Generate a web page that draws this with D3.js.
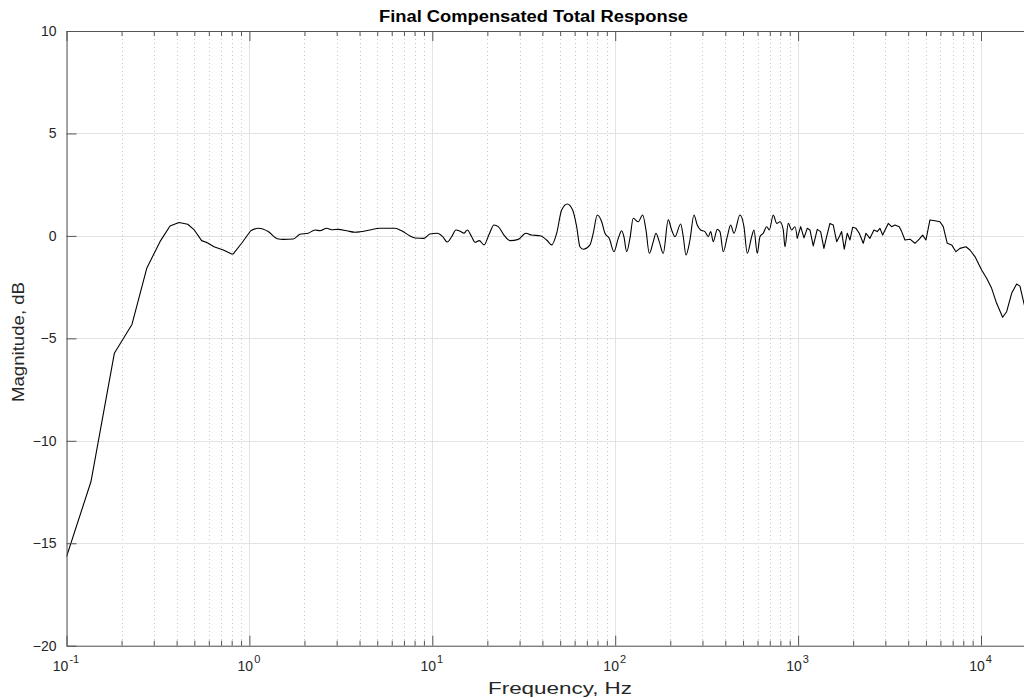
<!DOCTYPE html>
<html><head><meta charset="utf-8">
<script src="https://cdn.jsdelivr.net/npm/d3@7"></script>
<style>html,body{margin:0;padding:0;overflow:hidden;background:#fff}</style>
</head><body><svg id="c" width="1024" height="698"></svg>
<script>
const freqHz = [0.1,0.136,0.1826,0.228,0.2746,0.3245,0.368,0.412,0.46,0.4995,0.548,0.589,0.640,0.720,0.800,0.816,0.907,1.016,1.118,1.268,1.420,1.532,1.738,1.891,2.099,2.283,2.432,2.646,2.818,3.062,3.404,3.777,4.024,4.563,5.175,6.251,6.801,7.55,8.04,9.00,9.71,10.65,11.40,12.07,12.76,13.47,14.29,14.90,15.53,16.41,17.12,18.07,19.17,20.48,21.74,22.95,24.65,26.59,29.51,32.52,34.93,38.78,42.19,44.94,47.86,50.96,54.70,58.53,61.55,64.16,66.89,72.78,75.86,79.78,84.34,87.90,92.78,98.45,103.9,108.5,111.6,115.5,120.4,125.5,133.7,141.3,147.3,153.6,161.5,167.1,174.1,183.1,195.0,203.5,212.2,228.0,235.6,243.7,256.3,269.5,280.9,293.3,309.6,322.7,332.6,343.7,361.4,373.9,389.8,410.0,427.9,446.0,481.0,505.8,527.2,557.3,573.7,598.0,618.6,645.0,673.2,695.6,731.6,763.6,796.0,829.7,847.6,883.6,922.2,961.1,989.4,1033,1077,1122,1161,1210,1273,1328,1384,1432,1493,1557,1625,1679,1730,1788,1857,1921,1987,2072,2160,2271,2350,2471,2598,2709,2802,2899,3111,3247,3384,3573,3683,3839,4089,4355,4596,4797,5000,5259,5601,5965,6217,6539,6912,7295,7672,8274,8700,9266,10080,10735,11435,12175,13130,13810,14710,15660,16330,17170,18000];
const magDb = [-15.66,-12.0,-5.73,-4.32,-1.58,-0.28,0.48,0.65,0.57,0.29,-0.23,-0.33,-0.53,-0.69,-0.88,-0.88,-0.36,0.25,0.37,0.21,-0.14,-0.17,-0.15,0.08,0.13,0.29,0.25,0.37,0.30,0.32,0.25,0.18,0.2,0.29,0.37,0.37,0.25,0.0,-0.10,-0.12,0.09,0.13,-0.04,-0.30,-0.04,0.29,0.21,0.13,0.29,-0.04,-0.31,-0.23,-0.44,0.09,0.53,0.45,0.04,-0.23,-0.17,0.13,0.04,0.01,-0.20,-0.44,0.13,1.26,1.56,1.26,0.45,-0.53,-0.65,-0.44,0.13,1.02,0.69,0.13,-0.12,-0.77,-0.12,0.25,-0.04,-0.77,-0.12,0.86,0.69,1.02,0.29,-0.85,-0.28,0.13,-0.28,-0.85,0.78,0.29,-0.04,0.58,-0.04,-0.93,-0.20,1.02,0.53,0.29,0.21,-0.04,0.21,-0.28,0.32,0.21,-0.77,-0.04,0.53,0.13,1.02,0.45,-0.85,-0.04,0.29,-0.85,-0.04,0.13,0.45,0.29,1.02,0.61,0.69,0.29,-0.53,0.61,0.29,0.45,-0.12,0.45,-0.1,0.37,0.29,-0.49,0.32,0.21,-0.61,-0.04,0.61,0.53,-0.28,-0.04,0.21,-0.65,0.13,-0.20,0.42,0.37,0.13,-0.36,0.13,-0.12,0.29,0.21,0.37,0.04,0.61,0.45,0.53,0.45,0.21,-0.20,-0.16,-0.36,-0.16,0.04,-0.20,0.78,0.74,0.69,0.45,-0.36,-0.44,-0.77,-0.61,-0.53,-0.69,-1.01,-1.66,-2.07,-2.56,-3.29,-3.97,-3.70,-2.80,-2.35,-2.45,-3.29,-4.0];
const yTicks = [-20,-15,-10,-5,0,5,10];
const xDecades = [0.1,1,10,100,1000,10000];
const xDecadeExp = ["-1","0","1","2","3","4"];
const titleText = "Final Compensated Total Response";
const xLabelText = "Frequency, Hz";
const yLabelText = "Magnitude, dB";

const svg = d3.select("#c");
const font = "'Liberation Sans', Arial, Helvetica, sans-serif";
const L = 66.5, T = 31, B = 645.7, decade = 182.9;
const R = L + decade * Math.log10(20000 / 0.1);
const x = d3.scaleLog().domain([0.1, 20000]).range([L, R]);
const y = d3.scaleLinear().domain([-20, 10]).range([B, T]);

const minors = [];
xDecades.forEach(d => { for (let k = 2; k <= 9; k++) { const v = d * k; if (v <= 20000) minors.push(v); } });

svg.append("defs").append("clipPath").attr("id", "clip")
  .append("rect").attr("x", L).attr("y", T).attr("width", R - L).attr("height", B - T);

// minor grid (dotted)
svg.append("g").selectAll("line").data(minors).join("line")
  .attr("x1", d => Math.round(x(d)) + 0.5).attr("x2", d => Math.round(x(d)) + 0.5)
  .attr("y1", T).attr("y2", B)
  .attr("stroke", "#c8c8c8").attr("stroke-width", 1).attr("stroke-dasharray", "1,3");
// major grid
svg.append("g").selectAll("line").data(xDecades).join("line")
  .attr("x1", d => Math.round(x(d)) + 0.5).attr("x2", d => Math.round(x(d)) + 0.5)
  .attr("y1", T).attr("y2", B).attr("stroke", "#e3e3e3").attr("stroke-width", 1);
svg.append("g").selectAll("line").data(yTicks).join("line")
  .attr("x1", L).attr("x2", R)
  .attr("y1", d => Math.round(y(d)) + 0.5).attr("y2", d => Math.round(y(d)) + 0.5)
  .attr("stroke", "#e3e3e3").attr("stroke-width", 1);

// curve: linear below ~1 Hz and above ~1 kHz, smooth in between
const pts = freqHz.map((f, i) => [f, magDb[i]]);
const segs = [
  { data: pts.filter(p => p[0] <= 1.016), curve: d3.curveLinear },
  { data: pts.filter(p => p[0] >= 1.016 && p[0] <= 989.4), curve: d3.curveMonotoneX },
  { data: pts.filter(p => p[0] >= 989.4), curve: d3.curveLinear }
];
const gCurve = svg.append("g").attr("clip-path", "url(#clip)");
segs.forEach(s => {
  const ln = d3.line().x(p => x(p[0])).y(p => y(p[1])).curve(s.curve);
  gCurve.append("path").attr("d", ln(s.data)).attr("fill", "none")
    .attr("stroke", "#000").attr("stroke-width", 1.1).attr("stroke-linejoin", "round");
});

// axes
const axCol = "#555";
function styleAxis(g) {
  g.select(".domain").attr("stroke", axCol);
  g.selectAll(".tick line").attr("stroke", axCol);
}
const axBottom = svg.append("g").attr("transform", `translate(0,${B})`)
  .call(d3.axisBottom(x).tickValues(xDecades).tickSizeInner(-10).tickSizeOuter(0).tickFormat(""));
styleAxis(axBottom);
svg.append("g").attr("transform", `translate(0,${B})`)
  .call(d3.axisBottom(x).tickValues(minors).tickSizeInner(-5).tickSizeOuter(0).tickFormat(""))
  .call(g => { g.select(".domain").remove(); g.selectAll(".tick line").attr("stroke", axCol); });
const axTop = svg.append("g").attr("transform", `translate(0,${T})`)
  .call(d3.axisTop(x).tickValues(xDecades).tickSizeInner(-10).tickSizeOuter(0).tickFormat(""));
styleAxis(axTop);
svg.append("g").attr("transform", `translate(0,${T})`)
  .call(d3.axisTop(x).tickValues(minors).tickSizeInner(-5).tickSizeOuter(0).tickFormat(""))
  .call(g => { g.select(".domain").remove(); g.selectAll(".tick line").attr("stroke", axCol); });
const axLeft = svg.append("g").attr("transform", `translate(${L},0)`)
  .call(d3.axisLeft(y).tickValues(yTicks).tickSizeInner(-10).tickSizeOuter(0).tickPadding(10).tickFormat(d3.format("d")));
styleAxis(axLeft);
axLeft.selectAll("text").attr("font-family", font).attr("font-size", 14).attr("fill", "#262626");

// x tick labels with superscripts
const xl = svg.append("g").selectAll("text").data(xDecades).join("text")
  .attr("x", d => x(d) - 0.5).attr("y", B + 25)
  .attr("text-anchor", "middle").attr("font-family", font).attr("font-size", 14).attr("fill", "#262626");
xl.append("tspan").text("10");
xl.append("tspan").attr("dy", -8).attr("dx", 1).attr("font-size", 11).text((d, i) => xDecadeExp[i]);

svg.append("text").attr("x", 533.5).attr("y", 22).attr("text-anchor", "middle")
  .attr("font-family", font).attr("font-size", 16).attr("font-weight", "bold").attr("fill", "#000")
  .attr("textLength", 309).attr("lengthAdjust", "spacingAndGlyphs")
  .text(titleText);
svg.append("text").attr("x", 560).attr("y", 694).attr("text-anchor", "middle")
  .attr("font-family", font).attr("font-size", 16).attr("fill", "#262626")
  .attr("textLength", 144).attr("lengthAdjust", "spacingAndGlyphs").text(xLabelText);
svg.append("text").attr("transform", `translate(24,342) rotate(-90)`).attr("text-anchor", "middle")
  .attr("font-family", font).attr("font-size", 16).attr("fill", "#262626")
  .attr("textLength", 120).attr("lengthAdjust", "spacingAndGlyphs").text(yLabelText);
</script></body></html>
